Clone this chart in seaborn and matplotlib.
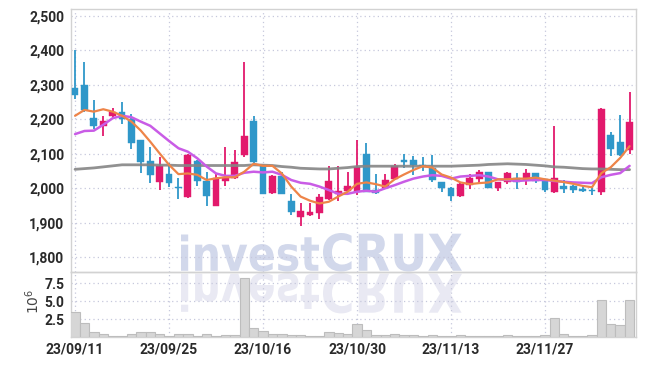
import numpy as np
import pandas as pd
import matplotlib
matplotlib.use("Agg")
import matplotlib.pyplot as plt
import seaborn as sns
from matplotlib.textpath import TextPath
from matplotlib.patches import PathPatch
from matplotlib.font_manager import FontProperties
from matplotlib.transforms import Affine2D
from matplotlib.ticker import FuncFormatter

# ---------------- data ----------------
opens = [2290, 2300, 2203, 2180, 2208, 2221, 2201, 2140, 2080, 2019,
         2041, 2001, 1974, 2080, 2021, 1950, 2020, 2029, 2097, 2195,
         2065, 1985, 2036, 1963, 1918, 1923, 1929, 1970, 1984, 1993,
         1990, 2098, 1995, 2002, 2026, 2081, 2081, 2068, 2058, 2017,
         2002, 1978, 2010, 2028, 2047, 2002, 2017, 2031, 2023, 2043,
         2026, 1990, 2007, 2007, 1999, 1994, 1988, 2153, 2133, 2110]
closes = [2270, 2228, 2180, 2195, 2222, 2201, 2130, 2075, 2039, 2065,
          2015, 2000, 2097, 2020, 1979, 2029, 2029, 2076, 2152, 2075,
          1984, 2036, 1984, 1930, 1934, 1931, 1976, 2021, 1992, 2008,
          2063, 1990, 1987, 2023, 2066, 2077, 2067, 2064, 2024, 2000,
          1978, 2012, 2031, 2047, 2002, 2017, 2043, 2017, 2043, 2021,
          1996, 2029, 1997, 1995, 1993, 1993, 2231, 2114, 2097, 2192]
highs = [2400, 2365, 2255, 2208, 2234, 2250, 2215, 2140, 2119, 2090,
         2072, 2030, 2099, 2082, 2048, 2040, 2119, 2110, 2365, 2210,
         2066, 2038, 2048, 1984, 1956, 1956, 1984, 2065, 2065, 2048,
         2140, 2131, 2041, 2041, 2071, 2100, 2093, 2091, 2095, 2018,
         2004, 2016, 2040, 2053, 2048, 2019, 2047, 2043, 2057, 2044,
         2027, 2180, 2024, 2010, 2007, 2003, 2232, 2163, 2211, 2280]
lows = [2260, 2222, 2172, 2152, 2203, 2186, 2113, 2043, 2014, 1995,
        2005, 1968, 1972, 2007, 1950, 1948, 2008, 2026, 2092, 2068,
        1983, 1983, 1983, 1922, 1891, 1920, 1910, 1966, 1964, 1990,
        1982, 1988, 1983, 2000, 2024, 2060, 2038, 2050, 2018, 1990,
        1964, 1976, 1999, 2016, 2001, 1993, 2012, 1999, 2009, 2016,
        1988, 1985, 1987, 1987, 1990, 1981, 1981, 2093, 2094, 2100]
ma_short = [2210, 2227, 2222, 2229, 2222, 2210, 2193, 2167, 2135, 2101,
            2068, 2041, 2043, 2039, 2024, 2029, 2032, 2032, 2048, 2071,
            2065, 2065, 2043, 2005, 1976, 1964, 1956, 1961, 1976, 1990,
            2013, 2017, 2012, 2005, 2026, 2040, 2053, 2064, 2060, 2040,
            2031, 2017, 2012, 2015, 2017, 2026, 2026, 2028, 2028, 2031,
            2026, 2022, 2018, 2013, 2007, 2003, 2044, 2061, 2088, 2122]
ma_mid = [2157, 2166, 2167, 2184, 2203, 2210, 2206, 2193, 2181, 2159,
          2137, 2116, 2106, 2087, 2063, 2043, 2036, 2036, 2045, 2048,
          2046, 2048, 2039, 2024, 2016, 2013, 2005, 1995, 1984, 1984,
          1990, 1993, 1990, 2000, 2009, 2019, 2028, 2034, 2038, 2036,
          2028, 2034, 2036, 2038, 2034, 2026, 2024, 2021, 2023, 2024,
          2024, 2021, 2019, 2017, 2016, 2015, 2032, 2039, 2044, 2065]
ma_long = [2055, 2057, 2059, 2062, 2065, 2068, 2068, 2068, 2068, 2067,
           2067, 2066, 2066, 2066, 2066, 2066, 2066, 2066, 2066, 2068,
           2067, 2066, 2063, 2061, 2058, 2057, 2056, 2056, 2058, 2060,
           2063, 2064, 2064, 2064, 2064, 2064, 2064, 2064, 2064, 2064,
           2064, 2065, 2066, 2067, 2069, 2070, 2071, 2070, 2069, 2067,
           2065, 2062, 2061, 2059, 2057, 2056, 2056, 2055, 2054, 2054]
volumes = [3.47, 1.94, 0.74, 0.42, 0.23, 0.23, 0.42, 0.74, 0.74, 0.46,
           0.19, 0.46, 0.46, 0.23, 0.46, 0.19, 0.32, 0.32, 8.24, 1.25,
           0.88, 0.46, 0.46, 0.32, 0.32, 0.19, 0.19, 0.74, 0.60, 0.46,
           1.85, 0.97, 0.32, 0.32, 0.46, 0.32, 0.32, 0.23, 0.32, 0.19,
           0.23, 0.32, 0.23, 0.19, 0.19, 0.19, 0.32, 0.19, 0.19, 0.23,
           0.32, 2.64, 0.46, 0.19, 0.19, 0.32, 5.19, 1.85, 1.71, 5.19]
tick_pos = [0, 10, 20, 30, 40, 50]
tick_labels = ["23/09/11", "23/09/25", "23/10/16", "23/10/30", "23/11/13", "23/11/27"]
price_ticks = [1800, 1900, 2000, 2100, 2200, 2300, 2400, 2500]
vol_ticks = [2.5, 5.0, 7.5]

# ---------------- style ----------------
sns.set_theme(style="white")
plt.rcParams["font.family"] = ["Roboto", "DejaVu Sans"]

W, H = 645, 366
fig = plt.figure(figsize=(W / 100, H / 100), dpi=100)
fig.patch.set_facecolor("white")

UP = "#e2196c"
DOWN = "#2f97c9"
GRID = "#c6c8dc"
SPINE = "#d2d2d2"
TXT = "#2a2a2a"

ax = fig.add_axes([71.3 / W, 94 / H, (635.7 - 71.3) / W, (356.7 - 94) / H])
axv = fig.add_axes([71.3 / W, 28.7 / H, (635.7 - 71.3) / W, (94 - 28.7) / H], sharex=ax)
for a in (ax, axv):
    a.set_facecolor("none")
    for s in a.spines.values():
        s.set_color(SPINE)
        s.set_linewidth(1.0)

df = pd.DataFrame({"i": np.arange(len(opens)), "open": opens, "close": closes,
                   "high": highs, "low": lows, "ma_short": ma_short,
                   "ma_mid": ma_mid, "ma_long": ma_long, "vol": volumes})
colors = [UP if c >= o else DOWN for o, c in zip(df["open"], df["close"])]

# wicks
ax.vlines(df["i"], df["low"], df["high"], colors=colors, linewidth=1.3, zorder=3)
# bodies
body_bottom = np.minimum(df["open"], df["close"])
body_h = np.maximum(np.abs(df["close"] - df["open"]), 2.5)
ax.bar(df["i"], body_h, bottom=body_bottom, width=0.72, color=colors,
       edgecolor=colors, linewidth=0.3, zorder=4)

# moving averages
sns.lineplot(data=df, x="i", y="ma_long", ax=ax, color="#858585", linewidth=2.0, zorder=5, alpha=0.9)
sns.lineplot(data=df, x="i", y="ma_mid", ax=ax, color="#c95ce6", linewidth=1.8, zorder=6)
sns.lineplot(data=df, x="i", y="ma_short", ax=ax, color="#ee8448", linewidth=1.6, zorder=7)

ax.set_xlim(-0.4, 59.65)
ax.set_ylim(1757.5, 2518.5)
ax.set_yticks(price_ticks)
ax.yaxis.set_major_formatter(FuncFormatter(lambda v, p: f"{int(v):,}"))
ax.set_xlabel("")
ax.set_ylabel("")
ax.grid(True, color=GRID, linestyle=(0, (1, 2.5)), linewidth=0.9)
ax.tick_params(axis="y", length=0, pad=5, labelsize=10, labelcolor=TXT)
ax.tick_params(axis="x", length=0, labelbottom=False)
for t in ax.get_yticklabels():
    t.set_fontweight("bold")

# volume
axv.bar(df["i"], df["vol"], width=1.0, color="#d6d6d6", edgecolor="#bdbdbd", linewidth=0.8, zorder=3)
axv.set_ylim(0, 9.07)
axv.set_yticks(vol_ticks)
axv.yaxis.set_major_formatter(FuncFormatter(lambda v, p: f"{v:.1f}"))
axv.set_xticks(tick_pos)
axv.set_xticklabels(tick_labels)
axv.grid(True, color=GRID, linestyle=(0, (1, 2.5)), linewidth=0.9)
axv.tick_params(axis="both", length=0, labelsize=10, labelcolor=TXT)
axv.tick_params(axis="y", pad=5)
axv.tick_params(axis="x", pad=4)
for t in axv.get_yticklabels() + axv.get_xticklabels():
    t.set_fontweight("bold")
axv.set_xlabel("")
axv.set_ylabel("")
ax.set_xticks(tick_pos)

fig.text(33 / W, 1 - 301 / H, r"$10^{6}$", rotation=90, ha="center", va="center",
         fontsize=10, color="#444444", family="DejaVu Sans")

# watermark (two parts, each fitted to its box, plus a mirrored reflection)
fp = FontProperties(family="DejaVu Sans", weight="bold")
to_fig = Affine2D().scale(1 / W, 1 / H) + fig.transFigure
ybase = 366 - 271.5


def watermark(word, x0, x1, top_px):
    tp = TextPath((0, 0), word, size=100, prop=fp)
    ext = tp.get_extents()
    sx = (x1 - x0) / ext.width
    sy = ((366 - top_px) - ybase) / ext.height
    tr_main = Affine2D().translate(-ext.x0, -ext.y0).scale(sx, sy).translate(x0, ybase) + to_fig
    tr_refl = Affine2D().translate(-ext.x0, -ext.y0).scale(sx, -sy * 1.05).translate(x0, ybase - 1.5) + to_fig
    fig.patches.append(PathPatch(tp, transform=tr_main, facecolor="#d2d8eb", edgecolor="none", zorder=-5))
    fig.patches.append(PathPatch(tp, transform=tr_refl, facecolor="#e9e9f3", edgecolor="none", zorder=-5))


watermark("invest", 181, 319, 234.5)
watermark("CRUX", 323, 462, 233)

fig.savefig("out.png", dpi=100, facecolor="white")
